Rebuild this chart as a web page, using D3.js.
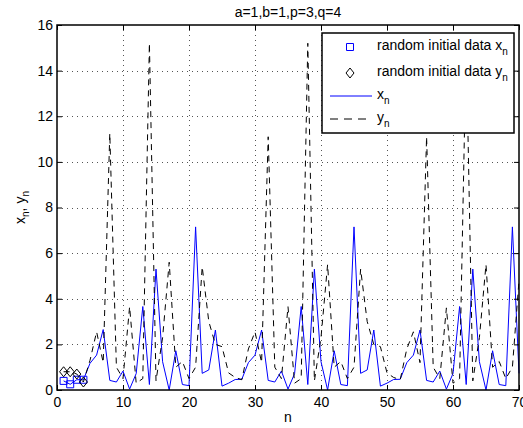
<!DOCTYPE html>
<html>
<head>
<meta charset="utf-8">
<script src="https://cdn.jsdelivr.net/npm/d3@7"></script>
<style>
  body { margin: 0; background: #fff; }
  svg { display: block; font-family: 'Liberation Sans', Arial, sans-serif; }
</style>
</head>
<body>
<div id="chart"></div>
<script>
// values, n = 1..70
const xn = [
  0.40, 0.25, 0.45, 0.45, 1.17, 1.53, 2.65, 0.42, 0.35, 0.83,
  0.04, 0.72, 3.66, 0.24, 5.30, 1.24, 0.00, 1.72, 0.24, 0.19,
  7.15, 0.73, 0.88, 2.63, 0.17, 0.30, 0.46, 0.47, 1.20, 1.53,
  2.63, 0.42, 0.35, 0.83, 0.04, 0.72, 3.66, 0.24, 5.30, 1.24,
  0.00, 1.72, 0.24, 0.19, 7.15, 0.73, 0.88, 2.63, 0.17, 0.30,
  0.46, 0.47, 1.20, 1.53, 2.63, 0.42, 0.35, 0.83, 0.04, 0.72,
  3.66, 0.24, 5.30, 1.24, 0.00, 1.72, 0.24, 0.19, 7.15, 0.73
]
const yn = [
  0.80, 0.80, 0.70, 0.35, 1.30, 2.55, 1.20, 11.25, 1.00, 0.50,
  3.65, 0.30, 0.50, 15.20, 0.40, 2.30, 5.60, 1.00, 1.25, 0.50,
  1.00, 5.40, 3.00, 2.00, 1.90, 0.75, 0.55, 0.45, 1.80, 2.55,
  1.20, 11.10, 1.00, 0.50, 3.65, 0.30, 0.50, 15.20, 0.40, 2.30,
  5.50, 1.00, 1.25, 0.50, 1.00, 5.30, 3.00, 2.00, 1.90, 0.75,
  0.55, 0.45, 1.80, 2.55, 1.20, 11.10, 1.00, 0.50, 3.60, 0.30,
  0.50, 15.20, 0.40, 2.30, 5.50, 1.00, 1.25, 0.50, 1.00, 4.80
]
const initCount = 4
const xTicks = [0, 10, 20, 30, 40, 50, 60, 70]
const yTicks = [0, 2, 4, 6, 8, 10, 12, 14, 16]
const titleText = 'a=1,b=1,p=3,q=4'
const legendLabels = ['random initial data x', 'random initial data y', 'x', 'y']

const width = 523
const height = 428
const plotLeft = 57, plotRight = 519, plotTop = 25, plotBottom = 390

const svg = d3.select('#chart')
  .append('svg')
  .attr('width', width)
  .attr('height', height)

const x = d3.scaleLinear().domain([0, 70]).range([plotLeft, plotRight])
const y = d3.scaleLinear().domain([0, 16]).range([plotBottom, plotTop])

// dotted grid
const grid = svg.append('g')
  .attr('stroke', '#555')
  .attr('stroke-width', 1)
  .attr('stroke-dasharray', '1,4')
grid.selectAll('line.vx')
  .data(xTicks.slice(1, -1))
  .enter().append('line')
  .attr('x1', d => Math.round(x(d)) + 0.5).attr('x2', d => Math.round(x(d)) + 0.5)
  .attr('y1', plotTop).attr('y2', plotBottom)
grid.selectAll('line.hy')
  .data(yTicks.slice(1, -1))
  .enter().append('line')
  .attr('y1', d => Math.round(y(d)) + 0.5).attr('y2', d => Math.round(y(d)) + 0.5)
  .attr('x1', plotLeft).attr('x2', plotRight)

// series
const n = d3.range(1, xn.length + 1)
const line = d3.line().x(d => x(d[0])).y(d => y(d[1]))

svg.append('path')
  .datum(n.map((d, i) => [d, xn[i]]))
  .attr('d', line)
  .attr('fill', 'none')
  .attr('stroke', '#0000ff')
  .attr('stroke-width', 1)

svg.append('path')
  .datum(n.map((d, i) => [d, yn[i]]))
  .attr('d', line)
  .attr('fill', 'none')
  .attr('stroke', '#000')
  .attr('stroke-width', 1)
  .attr('stroke-dasharray', '6,5')

const square = (cx, cy) => `M${cx - 3.5},${cy - 3.5}h7v7h-7Z`
const diamond = (cx, cy) => `M${cx},${cy - 5}L${cx + 4},${cy}L${cx},${cy + 5}L${cx - 4},${cy}Z`

svg.append('g').selectAll('path')
  .data(n.slice(0, initCount))
  .enter().append('path')
  .attr('d', (d, i) => square(x(d), y(xn[i])))
  .attr('fill', 'none')
  .attr('stroke', '#0000ff')

svg.append('g').selectAll('path')
  .data(n.slice(0, initCount))
  .enter().append('path')
  .attr('d', (d, i) => diamond(x(d), y(yn[i])))
  .attr('fill', 'none')
  .attr('stroke', '#000')

// axes, ticks pointing inward
const fontSize = '14px'
const styleAxis = g => {
  g.select('.domain').remove()
  g.selectAll('line').attr('stroke', '#000')
  g.selectAll('text').attr('fill', '#000').style('font-size', fontSize).style('font-family', 'inherit')
}

svg.append('g')
  .attr('transform', `translate(0,${plotBottom})`)
  .call(d3.axisBottom(x).tickValues(xTicks).tickSizeInner(-5).tickSizeOuter(0).tickPadding(7))
  .call(styleAxis)
svg.append('g')
  .attr('transform', `translate(0,${plotTop})`)
  .call(d3.axisTop(x).tickValues(xTicks).tickSizeInner(-5).tickSizeOuter(0).tickFormat(''))
  .call(styleAxis)
svg.append('g')
  .attr('transform', `translate(${plotLeft},0)`)
  .call(d3.axisLeft(y).tickValues(yTicks).tickSizeInner(-5).tickSizeOuter(0).tickPadding(4))
  .call(styleAxis)
svg.append('g')
  .attr('transform', `translate(${plotRight},0)`)
  .call(d3.axisRight(y).tickValues(yTicks).tickSizeInner(-5).tickSizeOuter(0).tickFormat(''))
  .call(styleAxis)

svg.append('rect')
  .attr('x', plotLeft).attr('y', plotTop)
  .attr('width', plotRight - plotLeft).attr('height', plotBottom - plotTop)
  .attr('fill', 'none')
  .attr('stroke', '#000')
  .attr('stroke-width', 1.5)

// title and labels
svg.append('text')
  .attr('x', (plotLeft + plotRight) / 2).attr('y', 17)
  .attr('text-anchor', 'middle')
  .style('font-size', fontSize)
  .text(titleText)

svg.append('text')
  .attr('x', (plotLeft + plotRight) / 2).attr('y', 422)
  .attr('text-anchor', 'middle')
  .style('font-size', fontSize)
  .text('n')

const ylab = svg.append('text')
  .attr('transform', `translate(25,${(plotTop + plotBottom) / 2}) rotate(-90)`)
  .attr('text-anchor', 'middle')
  .style('font-size', fontSize)
ylab.append('tspan').text('x')
ylab.append('tspan').attr('dy', 4).style('font-size', '10px').text('n')
ylab.append('tspan').attr('dy', -4).text(', y')
ylab.append('tspan').attr('dy', 4).style('font-size', '10px').text('n')

// legend
const legend = svg.append('g')
legend.append('rect')
  .attr('x', 322).attr('y', 33)
  .attr('width', 192).attr('height', 100)
  .attr('fill', '#fff')
  .attr('stroke', '#000')
  .attr('stroke-width', 1.5)

const rowY = [47, 73, 96, 119]
legend.append('path').attr('d', square(350, rowY[0])).attr('fill', 'none').attr('stroke', '#0000ff')
legend.append('path').attr('d', diamond(350, rowY[1])).attr('fill', 'none').attr('stroke', '#000')
legend.append('line')
  .attr('x1', 330).attr('x2', 372).attr('y1', rowY[2]).attr('y2', rowY[2])
  .attr('stroke', '#0000ff')
legend.append('line')
  .attr('x1', 330).attr('x2', 372).attr('y1', rowY[3]).attr('y2', rowY[3])
  .attr('stroke', '#000')
  .attr('stroke-dasharray', '8,6')

legendLabels.forEach((label, i) => {
  const t = legend.append('text')
    .attr('x', 377).attr('y', rowY[i] + 3)
    .style('font-size', fontSize)
  t.append('tspan').text(label)
  t.append('tspan').attr('dy', 5).style('font-size', '10px').text('n')
})
</script>
</body>
</html>
